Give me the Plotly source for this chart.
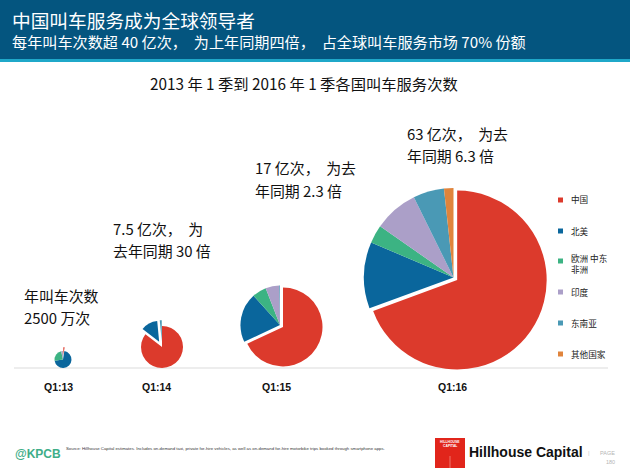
import plotly.graph_objects as go

W, H = 630, 472
CJK = "Noto Sans CJK SC"
LAT = "Liberation Sans"

categories = ["中国", "北美", "欧洲 中东 非洲", "印度", "东南亚", "其他国家"]
colors = ["#dc3a2c", "#0a669c", "#3cb383", "#ab9fc8", "#4a99b5", "#e0843c"]

q113 = [2.5, 70, 24, 3, 0.3, 0.2]
q114 = [85.5, 13, 0, 0, 1.5, 0]
q115 = [68, 20.3, 5.8, 5.6, 0.3, 0]
q116 = [69.4, 12, 3.3, 8, 5.6, 1.7]
quarters = ["Q1:13", "Q1:14", "Q1:15", "Q1:16"]
callouts = [
    ["年叫车次数", "2500 万次"],
    ["7.5 亿次，\u00a0\u00a0为", "去年同期 30 倍"],
    ["17 亿次，\u00a0\u00a0为去", "年同期 2.3 倍"],
    ["63 亿次，\u00a0\u00a0为去", "年同期 6.3 倍"],
]
legend_labels = ["中国", "北美", "欧洲 中东<br>非洲", "印度", "东南亚", "其他国家"]

title = "中国叫车服务成为全球领导者"
subtitle = "每年叫车次数超 40 亿次，\u00a0\u00a0为上年同期四倍，\u00a0\u00a0占全球叫车服务市场 70% 份额"
chart_title = "2013 年 1 季到 2016 年 1 季各国叫车服务次数"
source = ("Source: Hillhouse Capital estimates. Includes on-demand taxi, private for-hire vehicles, "
          "as well as on-demand for-hire motorbike trips booked through smartphone apps.")

# layout: centre x, centre y, radius (pixels), pull per slice
pies = [
    (q113, 63, 359.5, 8.5, [0.45, 0, 0, 0, 0, 0]),
    (q114, 162, 347, 21, [0, 0.28, 0, 0, 0.28, 0]),
    (q115, 280, 325, 39.5, [0.09, 0, 0, 0, 0, 0]),
    (q116, 453.5, 277.5, 89.5, [0.05, 0, 0, 0, 0, 0]),
]


def px(x):
    return x / W


def py(y):
    return 1 - y / H


fig = go.Figure()
for vals, cx, cy, r, pull in pies:
    half = r * (1 + max(pull))
    fig.add_trace(go.Pie(
        labels=categories, values=vals, sort=False, direction="clockwise", rotation=0,
        pull=pull, marker=dict(colors=colors, line=dict(width=0)),
        textinfo="none", hoverinfo="label+percent", showlegend=False,
        domain=dict(x=[px(cx - half), px(cx + half)], y=[py(cy + half), py(cy - half)]),
    ))

shapes = []
ann = []


def rect(x0, y0, x1, y1, color):
    shapes.append(dict(type="rect", xref="paper", yref="paper", x0=px(x0), x1=px(x1),
                       y0=py(y1), y1=py(y0), fillcolor=color, line=dict(width=0), layer="below"))


def text(x, y, s, size, color="#1a1a1a", family=CJK, anchor="left", bold=False):
    ann.append(dict(xref="paper", yref="paper", x=px(x), y=py(y), text=f"<b>{s}</b>" if bold else s,
                    showarrow=False, xanchor=anchor, yanchor="middle", align=anchor,
                    font=dict(size=size, color=color, family=family), borderpad=0, borderwidth=0))


# header band
rect(0, 0, W, 59, "#04557f")
rect(0, 59, W, 62, "#1fa8c9")
text(12, 29, f'<span style="font-size:18.7px">{title}</span><br>{subtitle}', 15.15, "#ffffff")
text(304, 83, chart_title, 15.3, "#111111", anchor="center")

# baseline
rect(14, 367.6, 608, 368.6, "#dcdcdc")

# quarter labels
for q, x in zip(quarters, [58, 156, 276, 452]):
    text(x, 387, q, 10.5, "#111111", LAT, "center", True)

# callouts
for lines, x, y in zip(callouts, [24, 113, 255, 407], [295, 228, 168, 133]):
    for i, ln in enumerate(lines):
        text(x, y + i * 22, ln, 14.9, "#111111")

# legend
for lab, col, y in zip(legend_labels, colors, [200, 231, 261, 292, 323, 354]):
    rect(558, y - 2.5, 563, y + 2.5, col)
    text(571, y + (2.5 if "<br>" in lab else -0.5), lab, 8.6, "#222222")

# footer
text(15, 454, "@KPCB", 12, "#3fae88", LAT, bold=True)
text(66, 448, source, 4.3, "#333333", LAT)
rect(435, 438, 465, 468, "#e1251b")
rect(449.7, 456, 450.3, 468, "#f4a9a0")
text(450, 442, "HILLHOUSE", 3.4, "#ffffff", LAT, "center", True)
text(450, 446, "CAPITAL", 3.4, "#ffffff", LAT, "center", True)
text(469, 452, "Hillhouse Capital", 14, "#111111", LAT, bold=True)
text(589, 453, "|", 6, "#c8c8c8", LAT, "center")
text(615, 453, "PAGE", 5.5, "#b5b5b5", LAT, "right")
text(615, 462, "180", 5.5, "#b5b5b5", LAT, "right")

fig.update_layout(width=W, height=H, margin=dict(l=0, r=0, t=0, b=0, autoexpand=False),
                  paper_bgcolor="#ffffff", plot_bgcolor="#ffffff",
                  shapes=shapes, annotations=ann, showlegend=False)
fig.write_html("out.html", config=dict(displayModeBar=False),
               post_script="document.body.style.margin='0';")
